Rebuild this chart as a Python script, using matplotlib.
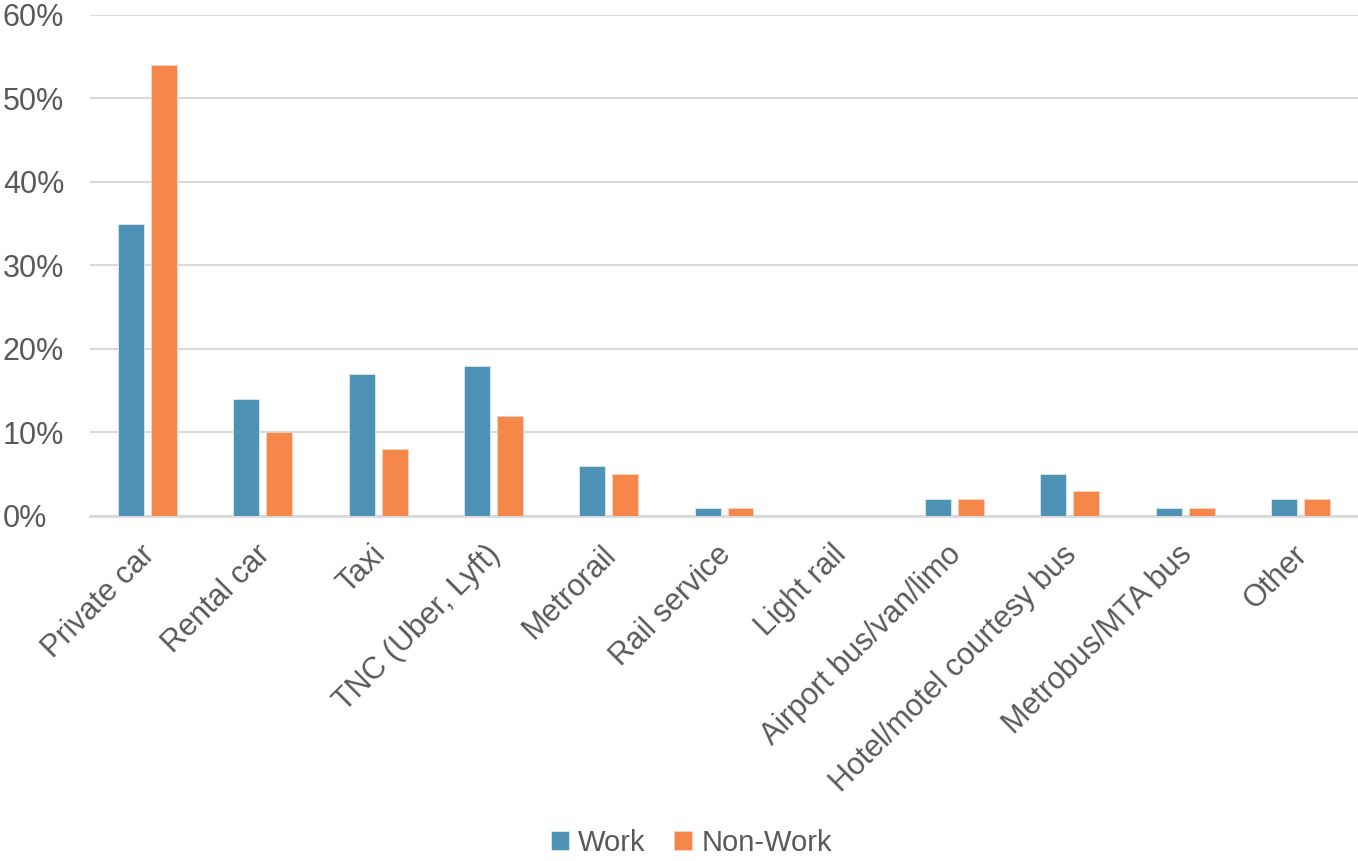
import matplotlib
matplotlib.use("Agg")
import matplotlib.pyplot as plt
import matplotlib.transforms as mtransforms
import numpy as np
from matplotlib.ticker import FuncFormatter

categories = ["Private car", "Rental car", "Taxi", "TNC (Uber, Lyft)", "Metrorail",
              "Rail service", "Light rail", "Airport bus/van/limo",
              "Hotel/motel courtesy bus", "Metrobus/MTA bus", "Other"]
work = [35, 14, 17, 18, 6, 1, 0, 2, 5, 1, 2]
non_work = [54, 10, 8, 12, 5, 1, 0, 2, 3, 1, 2]
y_ticks = [0, 10, 20, 30, 40, 50, 60]

plt.rcParams['font.family'] = ['Liberation Sans', 'DejaVu Sans']
text_color = "#595959"

fig = plt.figure(figsize=(13.58, 8.61), dpi=100)
ax = fig.add_axes([0.0663, 0.4007, 0.9337, 0.5819])

x = np.arange(len(categories))
w = 0.225
off = 0.143
ax.bar(x - off, work, width=w, color="#4E93B5", edgecolor="#DCE9F0", linewidth=0.6,
       label="Work", zorder=3)
ax.bar(x + off, non_work, width=w, color="#F5874A", edgecolor="#FBD3BC", linewidth=0.6,
       label="Non-Work", zorder=3)

ax.set_xlim(-0.5, len(categories) - 0.5)
ax.set_ylim(0, 60)
ax.set_yticks(y_ticks)
ax.yaxis.set_major_formatter(FuncFormatter(lambda v, p: f"{int(v)}%"))
ax.grid(axis="y", color="#D9D9D9", linewidth=1.5, zorder=0)
for s in ["top", "right", "left"]:
    ax.spines[s].set_visible(False)
ax.spines["bottom"].set_color("#D9D9D9")
ax.spines["bottom"].set_linewidth(2)
ax.tick_params(axis="both", length=0, labelsize=22, labelcolor=text_color)
ax.set_xticks(x)
ax.set_xticklabels(categories, rotation=45, ha="right", rotation_mode="anchor")
ax.tick_params(axis="x", pad=17)
shift = mtransforms.ScaledTranslation(-8 / 100, 0, fig.dpi_scale_trans)
for lbl in ax.get_xticklabels():
    lbl.set_transform(lbl.get_transform() + shift)
for lbl in ax.get_yticklabels():
    lbl.set_horizontalalignment("left")
    lbl.set_x(-0.0641 / 0.9337)
ax.tick_params(axis="y", pad=0)

fig.legend(loc="lower center", bbox_to_anchor=(0.509, -0.026), ncol=2, frameon=False,
           fontsize=21, labelcolor=text_color, handlelength=0.62, handleheight=0.62,
           handletextpad=0.3, columnspacing=1.0)

fig.savefig("out.png", dpi=100)
